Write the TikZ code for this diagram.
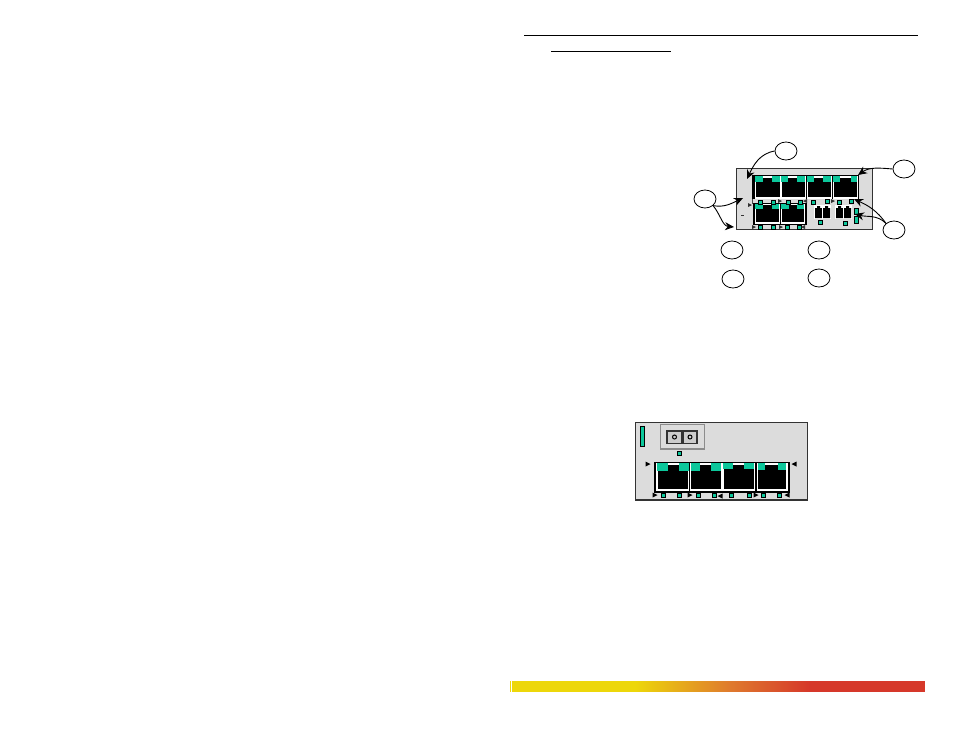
\documentclass[tikz,border=0pt]{standalone}
\usepackage{tikz}
\usetikzlibrary{arrows.meta,shapes.geometric}
\definecolor{PanelGray}{HTML}{DCDCDC}
\definecolor{LedGreen}{HTML}{0CC79B}
\definecolor{BarYellow}{HTML}{EDD70A}
\definecolor{BarOrange}{HTML}{DF7A2E}
\definecolor{BarRed}{HTML}{D6382A}
\tikzset{
  callout/.style={draw=black, line width=0.8pt, shape=ellipse, fill=white, minimum width=22pt, minimum height=18pt, inner sep=0pt},
  leader/.style={-{Stealth[length=9pt,width=8pt]}, line width=0.9pt},
  panel/.style={fill=PanelGray, draw=black!80, line width=0.8pt},
  rule/.style={line width=1pt}
}
\begin{document}
\begin{tikzpicture}[x=1pt, y=-1pt]
  \useasboundingbox (0,0) rectangle (954,737);
  \fill[white] (0,0) rectangle (954,737);

  % header rules
  \coordinate (ruleTopL) at (524,35);
  \coordinate (ruleTopR) at (918,35);
  \coordinate (ruleSubL) at (551,51.5);
  \coordinate (ruleSubR) at (671,51.5);
  \draw[rule] (ruleTopL) -- (ruleTopR);
  \draw[rule] (ruleSubL) -- (ruleSubR);

  % upper module
  \draw[panel] (736,168) rectangle (872,229);
  \fill[black] (752,174.5) rectangle (859,199);
  \fill[black!70] (752,199) rectangle (753,204);
  \fill[black] (753,203) rectangle (806.5,225);
  \foreach \x/\w/\a/\b in {755/26/8/8, 781/25/7/8, 807/25/7/8, 833/25/7/6} {
    \fill[white] (\x,176) rectangle ({\x+\w},199);
    \fill[black] ({\x+1},178) rectangle ({\x+\w-1},197);
    \fill[LedGreen] (\x,176) rectangle ({\x+\a},182);
    \fill[LedGreen] ({\x+\w-\b-1},176) rectangle ({\x+\w-1},182);
  }
  \foreach \x/\w in {755/25, 781/24} {
    \fill[white] (\x,204) rectangle ({\x+\w},224);
    \fill[black] ({\x+1},205) rectangle ({\x+\w-1},222);
    \fill[LedGreen] (\x,204) rectangle ({\x+8},209);
    \fill[LedGreen] ({\x+\w-8},204) rectangle ({\x+\w-1},209);
  }
  \foreach \x in {815,823,836,844} {
    \fill[white] ({\x-1},205) rectangle ({\x+8},219);
    \fill[black] (\x,208) -- ({\x+2},208) -- ({\x+2},206) -- ({\x+5},206) -- ({\x+5},208) -- ({\x+7},208) -- ({\x+7},218) -- (\x,218) -- cycle;
  }
  \draw[black, fill=LedGreen, line width=0.4pt] (854.5,208) rectangle (858,214.5);
  \draw[black, fill=LedGreen, line width=0.4pt] (854.5,216) rectangle (858,223);
  \foreach \x/\y in {760/202, 773/202, 788/202, 800/202, 813/202, 827/201, 839/202, 851/201, 760/227, 773/227, 787/227, 799/227, 820/222, 845/223} {
    \draw[black, fill=LedGreen, line width=0.5pt] ({\x-2},{\y-2}) rectangle ({\x+2},{\y+2});
  }
  \foreach \x/\y/\s in {750/205/1, 780/201/1, 805/201/-1, 833/201/1, 754/227/1, 781/227/1, 803/227/-1} {
    \fill[black!80] ({\x-2*\s},{\y-2}) -- ({\x+2*\s},\y) -- ({\x-2*\s},{\y+2}) -- cycle;
  }
  \fill[black!80] (741,214.5) rectangle (744,215.5);

  % callouts
  \node[callout] (calloutTop) at (786,151) {};
  \node[callout] (calloutRight) at (904,169) {};
  \node[callout] (calloutLeft) at (705,199) {};
  \node[callout] (calloutLed) at (894,230) {};
  \node[callout] (keyA) at (732,250) {};
  \node[callout] (keyB) at (819,250) {};
  \node[callout] (keyC) at (733,279) {};
  \node[callout] (keyD) at (819,278) {};
  \coordinate (tipTop) at (747,179);
  \coordinate (tipRight) at (858,175);
  \coordinate (tipLeftA) at (743,198);
  \coordinate (tipLeftB) at (734,227);
  \coordinate (tipLedA) at (854,199);
  \coordinate (tipLedB) at (855,214);
  \draw[leader] (calloutTop.west) to[out=190, in=65] (tipTop);
  \draw[leader] (calloutRight.west) to[out=175, in=35] (tipRight);
  \draw[leader] (calloutLeft.south east) to[out=-10, in=205] (tipLeftA);
  \draw[leader] (calloutLeft.south east) to[out=-50, in=175] (tipLeftB);
  \draw[leader] (calloutLed.north west) to[out=125, in=-25] (tipLedA);
  \draw[leader] (calloutLed.north west) to[out=135, in=-15] (tipLedB);

  % lower module
  \draw[panel] (635,422) rectangle (807,500);
  \draw[black!80, line width=1.2pt] (635,500) -- (807,500);
  \draw[black, fill=LedGreen, line width=0.6pt] (640.5,426) rectangle (644.5,446);
  \draw[black!45, fill=PanelGray, line width=1.2pt] (660.5,424.5) rectangle (704.5,449);
  \fill[black!80] (666,430) rectangle (698,444);
  \foreach \x/\w in {668/13, 684/12} {
    \fill[black!20] (\x,431.5) rectangle ({\x+\w},442.5);
    \draw[black, line width=1pt] ({\x+\w/2},437) circle (2pt);
  }
  \draw[black, fill=LedGreen, line width=0.5pt] (677,451) rectangle (681,455);
  \fill[black] (654,462) rectangle (790,493);
  \foreach \x/\w/\ix/\iw/\aw/\bx/\bw/\h in {
    656/33/2/30/11/23/10/8,
    690/32/1/30/9/21/10/8,
    722/33/2/30/10/22/10/6,
    757/31/1/28/7/21/8/7
  } {
    \fill[white] (\x,463) rectangle ({\x+\w},491);
    \fill[black] ({\x+\ix},465) rectangle ({\x+\ix+\iw},489);
    \fill[LedGreen] ({\x+1},463) rectangle ({\x+1+\aw},{463+\h});
    \fill[LedGreen] ({\x+\bx},463) rectangle ({\x+\bx+\bw},{463+\h});
  }
  \foreach \x in {663,679,698,714,731,749,763,779} {
    \draw[black, fill=LedGreen, line width=0.5pt] ({\x-2},493) rectangle ({\x+2},497);
  }
  \foreach \x/\y/\s in {648/464/1, 794/464/-1, 655/495/1, 690/495/1, 720/496/-1, 756/495/1, 787/495/-1} {
    \fill[black] ({\x-2.5*\s},{\y-2.5}) -- ({\x+2.5*\s},\y) -- ({\x-2.5*\s},{\y+2.5}) -- cycle;
  }

  % colour bar
  \fill[BarYellow] (510,681) rectangle (511,692);
  \fill[BarYellow] (512,681) rectangle (636,692);
  \shade[left color=BarYellow, right color=BarOrange] (635,681) rectangle (730,691.2);
  \shade[left color=BarOrange, right color=BarRed] (730,681) rectangle (810,691.2);
  \fill[BarRed] (809,681) rectangle (925,692);
\end{tikzpicture}
\end{document}
